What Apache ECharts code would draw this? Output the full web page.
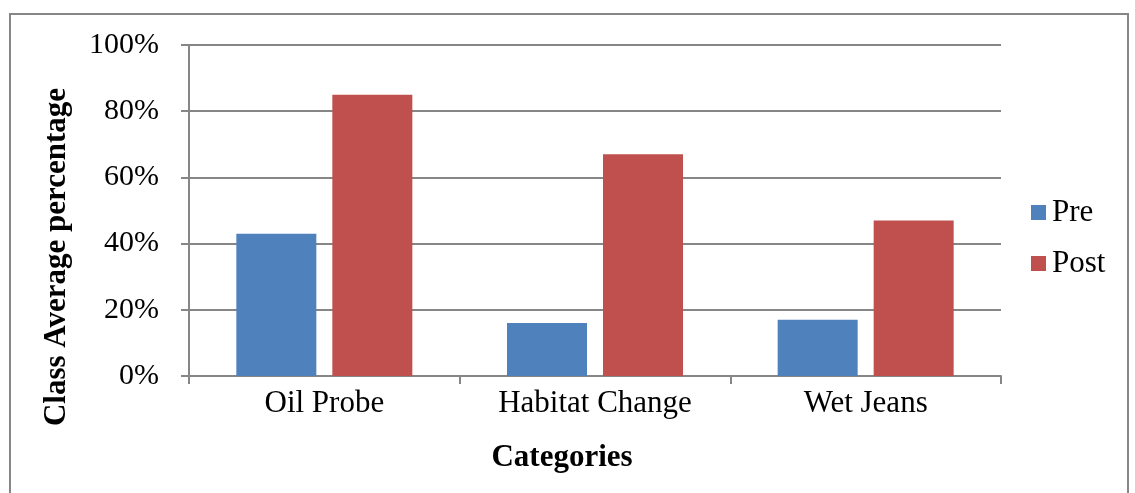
<!DOCTYPE html>
<html>
<head>
<meta charset="utf-8">
<script src="https://cdn.jsdelivr.net/npm/echarts@6/dist/echarts.min.js"></script>
<style>
  html, body { margin: 0; padding: 0; background: #fff; }
  #chart { width: 1135px; height: 493px; }
</style>
</head>
<body>
<div id="chart"></div>
<script>
const categories = ['Oil Probe', 'Habitat Change', 'Wet Jeans']
const preValues = [43, 16, 17]
const postValues = [85, 67, 47]
const yTicks = [0, 20, 40, 60, 80, 100]

const font = '"Liberation Serif", "Times New Roman", serif'
const axisGray = '#868686'

const chart = echarts.init(document.getElementById('chart'))

const option = {
  animation: false,
  backgroundColor: '#fff',
  textStyle: { fontFamily: font, color: '#000' },
  graphic: [
    {
      type: 'rect',
      shape: { x: 10, y: 14, width: 1118, height: 500 },
      style: { fill: 'none', stroke: axisGray, lineWidth: 2 },
      silent: true
    },
    {
      type: 'text',
      x: 57,
      y: 257,
      rotation: Math.PI / 2,
      style: {
        text: 'Class Average percentage',
        font: 'bold 31px ' + font,
        fill: '#000',
        align: 'center',
        verticalAlign: 'middle'
      }
    },
    {
      type: 'text',
      x: 562,
      y: 458,
      style: {
        text: 'Categories',
        font: 'bold 31px ' + font,
        fill: '#000',
        align: 'center',
        verticalAlign: 'middle'
      }
    }
  ],
  legend: {
    orient: 'vertical',
    left: 1026,
    top: 192,
    itemWidth: 15,
    itemHeight: 15,
    itemGap: 20,
    icon: 'rect',
    textStyle: { fontFamily: font, fontSize: 31, color: '#000', padding: [0, 0, 0, 1] },
    data: ['Pre', 'Post']
  },
  grid: {
    left: 189,
    right: 134,
    top: 45,
    bottom: 117
  },
  xAxis: {
    type: 'category',
    data: categories,
    axisLine: { lineStyle: { color: axisGray, width: 2 } },
    axisTick: { show: true, length: 8, inside: false, lineStyle: { color: axisGray, width: 2 } },
    axisLabel: { fontFamily: font, fontSize: 31, color: '#000', margin: 12 }
  },
  yAxis: {
    type: 'value',
    min: yTicks[0],
    max: yTicks[yTicks.length - 1],
    interval: 20,
    axisLine: { show: true, lineStyle: { color: axisGray, width: 2 } },
    axisTick: { show: true, length: 8, lineStyle: { color: axisGray, width: 2 } },
    splitLine: { lineStyle: { color: axisGray, width: 2 } },
    axisLabel: {
      fontFamily: font,
      fontSize: 30,
      color: '#000',
      margin: 30,
      formatter: '{value}%'
    }
  },
  series: [
    {
      name: 'Pre',
      type: 'bar',
      data: preValues,
      barWidth: 80,
      barGap: '20%',
      itemStyle: { color: '#4F81BD' }
    },
    {
      name: 'Post',
      type: 'bar',
      data: postValues,
      barWidth: 80,
      itemStyle: { color: '#C0504D' }
    }
  ]
}

chart.setOption(option)
</script>
</body>
</html>
